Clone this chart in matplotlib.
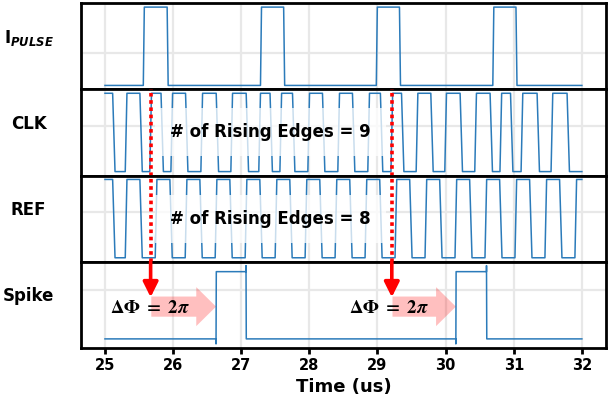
import numpy as np
import matplotlib.pyplot as plt
from matplotlib.patches import FancyArrow

T_START, T_END = 25.0, 32.0

# I_PULSE: pulse start / end times (us)
pulse_on = [25.57, 27.29, 28.99, 30.70]
pulse_off = [25.92, 27.63, 29.33, 31.04]

# CLK: rising / falling edge times (us), starts high
clk_rise = [25.31, 25.67, 25.98, 26.42, 26.86, 27.27, 27.58, 27.99, 28.43, 28.87,
            29.21, 29.58, 30.00, 30.44, 30.81, 31.12, 31.56]
clk_fall = [25.13, 25.53, 25.84, 26.20, 26.65, 27.09, 27.44, 27.77, 28.21, 28.65,
            29.06, 29.37, 29.80, 30.23, 30.67, 30.97, 31.36, 31.80]

# REF: rising / falling edge times (us), starts high
ref_rise = [25.31, 25.75, 26.19, 26.63, 27.07, 27.51, 27.95, 28.39, 28.83, 29.27,
            29.71, 30.15, 30.59, 31.03, 31.47, 31.91]
ref_fall = [25.13, 25.53, 25.97, 26.41, 26.85, 27.29, 27.73, 28.17, 28.61, 29.05,
            29.49, 29.93, 30.37, 30.81, 31.25, 31.69]

# Spike output
spike_on = [26.63, 30.15]
spike_off = [27.07, 30.60]
spike_dip, spike_high, spike_peak = -0.075, 1.0, 1.09

# marker lines (CLK rising edges where counting starts / stops)
mark_t = [25.67, 29.21]
phase_text_x = [25.08, 28.58]

labels = ["I$_{\\mathbfit{PULSE}}$", "CLK", "REF", "Spike"]
grid_y = [0.42, 0.58, 0.58, 0.72]
edge_counts = [9, 8]


def square(rises, falls, start, up=0.025, down=0.035):
    edges = sorted([(t, 1.0) for t in rises] + [(t, 0.0) for t in falls])
    ts, ys, lvl = [T_START], [start], start
    for t, new in edges:
        r = up if new > lvl else down
        ts += [t - r / 2, t + r / 2]
        ys += [lvl, new]
        lvl = new
    ts.append(T_END)
    ys.append(lvl)
    return ts, ys


def spike(ons, offs):
    ts, ys = [T_START], [0.0]
    for a, b in zip(ons, offs):
        ts += [a, a, a + 0.004, b, b, b + 0.004]
        ys += [0.0, spike_dip, spike_high, spike_high, spike_peak, 0.0]
    ts.append(T_END)
    ys.append(0.0)
    return ts, ys


fig, axes = plt.subplots(4, 1, sharex=True, figsize=(6.1, 3.98), dpi=100)
fig.subplots_adjust(left=0.133, right=0.993, top=0.992, bottom=0.126, hspace=0)

waves = [square(pulse_on, pulse_off, 0.0, 0.015, 0.015),
         square(clk_rise, clk_fall, 1.0),
         square(ref_rise, ref_fall, 1.0),
         spike(spike_on, spike_off)]

blue = "#2b7bba"
for ax, (ts, ys), lab, gy in zip(axes, waves, labels, grid_y):
    ax.plot(ts, ys, color=blue, lw=1.1)
    ax.set_yticks([gy])
    ax.tick_params(axis="y", length=0, labelleft=False)
    ax.grid(True, color="#e8e8e8", lw=1.6)
    ax.set_axisbelow(True)
    for s in ax.spines.values():
        s.set_linewidth(2.0)
    ax.set_ylabel(lab, rotation=0, fontsize=12, fontweight="bold",
                  ha="center", va="center", math_fontfamily="dejavusans")
    ax.yaxis.set_label_coords(-0.1, 0.6)

for ax in axes[:3]:
    ax.tick_params(axis="x", length=0)

ax = axes[3]
ax.set_xticks(range(25, 33))
ax.tick_params(axis="x", length=4, width=2.0, labelsize=10.5)
for t in ax.get_xticklabels():
    t.set_fontweight("bold")
ax.set_xlabel("Time (us)", fontsize=13, fontweight="bold", labelpad=3.5)

# red dotted markers through CLK and REF
for t in mark_t:
    for a in axes[1:3]:
        a.axvline(t, color="red", ls=(0, (1, 1)), lw=2.6, zorder=5)

# edge count labels
for a, n in zip(axes[1:3], edge_counts):
    a.text(27.43, 0.5, "# of Rising Edges = %d" % n, transform=a.get_xaxis_transform(),
           ha="center", va="center", fontsize=12, fontweight="bold", zorder=4,
           bbox=dict(boxstyle="square,pad=0.9", fc="white", ec="none", alpha=0.75))

# phase arrows in spike panel
for t, on, tx in zip(mark_t, spike_on, phase_text_x):
    ax.add_patch(FancyArrow(t + 0.01, 0.48, on - t - 0.01, 0, width=0.30,
                            head_width=0.58, head_length=0.29,
                            length_includes_head=True, color="red", alpha=0.25,
                            lw=0, zorder=2))
    ax.annotate("", xy=(t, 0.62), xycoords="data",
                xytext=(t, 1.0), textcoords=("data", "axes fraction"),
                arrowprops=dict(arrowstyle="-|>,head_width=0.45,head_length=0.9",
                                color="red", lw=2.6, shrinkA=0, shrinkB=0,
                                mutation_scale=10), zorder=6)
    ax.text(tx, 0.46, r"$\mathbf{\Delta\Phi\ =\ 2}\mathbfit{\pi}$", fontsize=13.5,
            ha="left", va="center", math_fontfamily="stix", zorder=4)

fig.savefig("out.png", dpi=100)
